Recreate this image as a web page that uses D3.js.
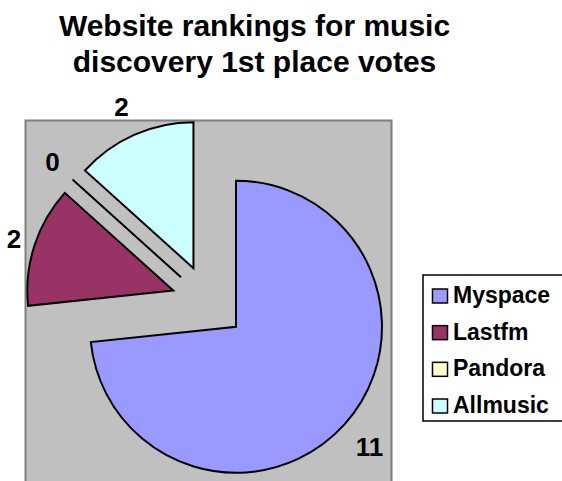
<!DOCTYPE html>
<html><head><meta charset="utf-8">
<script src="https://cdn.jsdelivr.net/npm/d3@7"></script>
<style>body{margin:0;background:#fff}svg{display:block}</style></head>
<body><svg id="c" width="562" height="481"></svg>
<script>
const categories = ["Myspace", "Lastfm", "Pandora", "Allmusic"];
const votes = [11, 2, 0, 2];
const colors = ["#9999FF", "#993366", "#FFFFCC", "#CCFFFF"];
const titleLines = ["Website rankings for music", "discovery 1st place votes"];

const FONT = "'Liberation Sans', Arial, Helvetica, sans-serif";
const svg = d3.select("#c");
const W = 562, H = 481;

// title
svg.append("g").selectAll("text").data(titleLines).join("text")
  .attr("x", 254.5).attr("y", (d, i) => 36 + i * 36)
  .attr("text-anchor", "middle")
  .attr("font-family", FONT).attr("font-weight", "bold").attr("font-size", 30)
  .attr("fill", "#000").text(d => d);

// plot area
const plot = { x: 25.5, y: 120.5, w: 366, h: 400 };
svg.append("rect").attr("x", plot.x).attr("y", plot.y)
  .attr("width", plot.w).attr("height", plot.h)
  .attr("fill", "#C0C0C0").attr("stroke", "#808080").attr("stroke-width", 2);

// pie
const cx = 208.5, cy = 302, R = 146, explode = 37;
const pie = d3.pie().sort(null).value(d => d);
const arcs = pie(votes);
const arc = d3.arc().innerRadius(0).outerRadius(R);

const g = svg.append("g").attr("transform", `translate(${cx},${cy})`);
g.selectAll("path").data(arcs).join("path")
  .attr("transform", d => {
    const m = (d.startAngle + d.endAngle) / 2;
    return `translate(${Math.sin(m) * explode},${-Math.cos(m) * explode})`;
  })
  .attr("d", arc)
  .attr("fill", (d, i) => colors[i])
  .attr("stroke", "#000").attr("stroke-width", 2).attr("stroke-linejoin", "miter");

// data labels
const LFS = 26;
g.selectAll("text.lbl").data(arcs).join("text").attr("class", "lbl")
  .each(function (d) {
    const m = (d.startAngle + d.endAngle) / 2;
    const dx = Math.sin(m), dy = -Math.cos(m);
    const txt = String(d.data);
    const rr = 200 + 15 * Math.abs(dy) + (txt.length - 1) * 9 * Math.abs(dx);
    d3.select(this)
      .attr("x", dx * rr).attr("y", dy * rr + LFS * 0.36)
      .text(txt);
  })
  .attr("text-anchor", "middle")
  .attr("font-family", FONT).attr("font-weight", "bold").attr("font-size", LFS)
  .attr("fill", "#000");

// legend
const leg = svg.append("g");
leg.append("rect").attr("x", 423).attr("y", 275).attr("width", 150).attr("height", 146)
  .attr("fill", "#fff").attr("stroke", "#000").attr("stroke-width", 1.5);
const rowY = d3.scalePoint().domain(categories).range([303, 413]);
const items = leg.selectAll("g.item").data(categories).join("g").attr("class", "item");
items.append("rect")
  .attr("x", 432.5).attr("y", d => rowY(d) - 14)
  .attr("width", 15).attr("height", 14)
  .attr("fill", (d, i) => colors[i]).attr("stroke", "#000").attr("stroke-width", 1.5);
items.append("text")
  .attr("x", 453).attr("y", d => rowY(d))
  .attr("font-family", FONT).attr("font-weight", "bold").attr("font-size", 23)
  .attr("fill", "#000").text(d => d);
</script></body></html>
